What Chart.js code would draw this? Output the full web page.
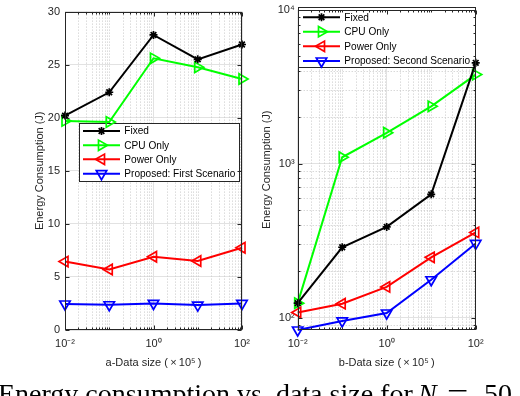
<!DOCTYPE html>
<html><head><meta charset="utf-8">
<script src="https://cdn.jsdelivr.net/npm/chart.js@4.4.0/dist/chart.umd.min.js"></script>
<style>
html,body{margin:0;padding:0;background:#fff;width:520px;height:396px;overflow:hidden;}
body{position:relative;}
#wa{position:absolute;left:0;top:0;width:260px;height:396px;}
#wb{position:absolute;left:260px;top:0;width:260px;height:396px;}
#cap{position:absolute;left:-2px;top:380px;width:540px;height:40px;font-family:"Liberation Serif","Times New Roman",serif;font-size:28px;line-height:1;white-space:nowrap;color:#000;}
#cap span,#cap i{position:absolute;top:0;}
#capN{left:420px;}
#capEq{left:449px;transform:scaleX(1.35);transform-origin:left center;}
#cap50{left:486px;}
</style></head><body>
<div id="wa"><canvas id="ca" width="260" height="396"></canvas></div>
<div id="wb"><canvas id="cb" width="260" height="396"></canvas></div>
<div id="cap"><span style="left:0">Energy consumption vs. data size for</span><i id="capN">N</i><span id="capEq">=</span><span id="cap50">50</span></div>
<script>
// ---------- data ----------
const dataSizes = [0.01, 0.1, 1, 10, 100];           // ×10^5
const xMajorTicks = [0.01, 1, 100];
const xTickLabels = ['10\u207B\u00B2', '10\u2070', '10\u00B2'];
const seriesNamesA = ['Fixed', 'CPU Only', 'Power Only', 'Proposed: First Scenario'];
const seriesNamesB = ['Fixed', 'CPU Only', 'Power Only', 'Proposed: Second Scenario'];
const fixedA    = [20.2, 22.4, 27.8, 25.5, 26.9];
const cpuA      = [19.7, 19.6, 25.6, 24.75, 23.65];
const powerA    = [6.45, 5.7, 6.9, 6.5, 7.75];
const proposedA = [2.45, 2.38, 2.5, 2.35, 2.5];
const fixedB    = [124, 286, 388, 631, 4510];
const cpuB      = [124, 1099, 1585, 2354, 3785];
const powerB    = [108, 123, 158, 246, 357];
const proposedB = [83, 95, 107, 176, 303];
const yTicksA = [0, 5, 10, 15, 20, 25, 30];
const yTicksB = [100, 1000, 10000];
const yTickLabelsB = ['10\u00B2', '10\u00B3', '10\u2074'];
const xTitleA = 'a-Data size (\u2009\u00D7\u200910\u2075\u2009)';
const xTitleB = 'b-Data size (\u2009\u00D7\u200910\u2075\u2009)';
const yTitle = 'Energy Consumption (J)';

// ---------- helpers ----------
const FONT = '"Liberation Sans", Arial, Helvetica, sans-serif';
const TXT = '#262626';
const styles = [
  {color:'#000000', pointStyle:'star', rotation:0, radius:4},
  {color:'#00ff00', pointStyle:'triangle', rotation:90, radius:6},
  {color:'#ff0000', pointStyle:'triangle', rotation:-90, radius:6},
  {color:'#0000ff', pointStyle:'triangle', rotation:180, radius:6}
];
function minorLogValues(lo, hi, majors){
  const out=[];
  for(let d=Math.floor(Math.log10(lo)); d<=Math.ceil(Math.log10(hi)); d++){
    for(let k=1;k<10;k++){
      const v = +(k*Math.pow(10,d)).toPrecision(6);
      if(v>lo*1.0001 && v<hi*0.9999 && !majors.some(m=>Math.abs(m-v)/m<1e-6)) out.push(v);
    }
  }
  return out;
}
function makeDatasets(names, arrays){
  return names.map((n,i)=>({
    label:n,
    data: dataSizes.map((x,j)=>({x:x, y:arrays[i][j]})),
    borderColor: styles[i].color,
    backgroundColor: 'rgba(0,0,0,0)',
    borderWidth: 2,
    pointStyle: styles[i].pointStyle,
    pointRotation: styles[i].rotation,
    pointRadius: styles[i].radius,
    pointHoverRadius: styles[i].radius,
    pointBorderWidth: 1.7,
    pointBorderColor: styles[i].color,
    pointBackgroundColor: 'rgba(0,0,0,0)',
    tension: 0,
    clip: false
  }));
}
function lineP(ctx,x0,y0,x1,y1){ctx.beginPath();ctx.moveTo(x0,y0);ctx.lineTo(x1,y1);ctx.stroke();}
function drawMarker(ctx, st, x, y){
  ctx.save();
  ctx.strokeStyle = st.color; ctx.fillStyle='rgba(0,0,0,0)'; ctx.lineWidth=1.7;
  if (Chart.helpers && Chart.helpers.drawPoint) {
    Chart.helpers.drawPoint(ctx, {pointStyle:st.pointStyle, rotation:st.rotation, radius:st.radius, borderWidth:1.7}, x, y);
  }
  ctx.restore();
}
function decorPlugin(cfg){
  return {
    id:'decor',
    beforeDatasetsDraw(chart){
      const {ctx, chartArea:a, scales:{x,y}} = chart;
      ctx.save();
      ctx.strokeStyle='#c8c8c8'; ctx.lineWidth=1; ctx.setLineDash([1,2]);
      cfg.minorX.forEach(v=>{const p=Math.round(x.getPixelForValue(v))+0.5; lineP(ctx,p,a.top,p,a.bottom);});
      cfg.minorY.forEach(v=>{const p=Math.round(y.getPixelForValue(v))+0.5; lineP(ctx,a.left,p,a.right,p);});
      ctx.restore();
      // legend
      const L = cfg.legend;
      ctx.save();
      ctx.fillStyle='#ffffff';
      ctx.fillRect(L.x0, L.y0, L.x1-L.x0, L.y1-L.y0);
      ctx.strokeStyle=TXT; ctx.lineWidth=1;
      ctx.strokeRect(Math.round(L.x0)+0.5, Math.round(L.y0)+0.5, Math.round(L.x1-L.x0)-1, Math.round(L.y1-L.y0)-1);
      ctx.font = '10.1px '+FONT; ctx.textBaseline='middle'; ctx.textAlign='left';
      chart.data.datasets.forEach((ds,i)=>{
        const ry = L.rows[i];
        ctx.strokeStyle = ds.borderColor; ctx.lineWidth=2;
        lineP(ctx, L.lx0, ry, L.lx1, ry);
        drawMarker(ctx, styles[i], (L.lx0+L.lx1)/2, ry);
        ctx.fillStyle='#000';
        ctx.fillText(ds.label, L.tx, ry+0.5);
      });
      ctx.restore();
    },
    afterDatasetsDraw(chart){
      const {ctx, chartArea:a, scales:{x,y}} = chart;
      ctx.save();
      ctx.strokeStyle=TXT; ctx.lineWidth=1; ctx.setLineDash([]);
      const l=Math.round(a.left)+0.5, r=Math.round(a.right)-0.5, t=Math.round(a.top)+0.5, b=Math.round(a.bottom)-0.5;
      ctx.strokeRect(l,t,r-l,b-t);
      const tk=(vals,len,isX)=>vals.forEach(v=>{
        if(isX){const p=Math.round(x.getPixelForValue(v))+0.5; lineP(ctx,p,b,p,b-len); lineP(ctx,p,t,p,t+len);}
        else {const p=Math.round(y.getPixelForValue(v))+0.5; lineP(ctx,l,p,l+len,p); lineP(ctx,r,p,r-len,p);}
      });
      tk(cfg.majorX,4,true); tk(cfg.minorX,2,true);
      tk(cfg.majorY,4,false); tk(cfg.minorY,2,false);
      ctx.restore();
    }
  };
}
function baseScales(o){
  return {
    x:{
      type:'logarithmic', min:0.01, max:100,
      afterBuildTicks:s=>{s.ticks = xMajorTicks.map(v=>({value:v}));},
      afterFit:s=>{s.height=66;},
      ticks:{autoSkip:false, maxRotation:0, padding:7, color:TXT, font:{family:FONT,size:11},
        callback:(v)=>{const i=xMajorTicks.findIndex(m=>Math.abs(m-v)/m<1e-6); return i>=0?xTickLabels[i]:'';}},
      grid:{color:'#e2e2e2', drawTicks:false, lineWidth:1},
      border:{display:false},
      title:{display:true, text:o.xTitle, color:TXT, font:{family:FONT,size:11}, padding:{top:0,bottom:26.5}}
    },
    y: Object.assign({
      afterFit:s=>{s.width=o.yWidth;},
      grid:{color:'#e2e2e2', drawTicks:false, lineWidth:1},
      border:{display:false},
      title:{display:true, text:yTitle, color:TXT, font:{family:FONT,size:11}, padding:{top:o.yTitlePad,bottom:0}}
    }, o.y)
  };
}
const commonOpts = {
  responsive:false, animation:false, devicePixelRatio:1,
  plugins:{legend:{display:false}, tooltip:{enabled:false}},
  events:[]
};

// ---------- chart A ----------
new Chart(document.getElementById('ca'), {
  type:'line',
  data:{datasets: makeDatasets(seriesNamesA, [fixedA, cpuA, powerA, proposedA])},
  options: Object.assign({}, commonOpts, {
    layout:{padding:{left:0,right:18,top:7,bottom:0}},
    scales: baseScales({xTitle:xTitleA, yWidth:65, yTitlePad:33.4, y:{
      type:'linear', min:0, max:30,
      afterBuildTicks:s=>{s.ticks=yTicksA.map(v=>({value:v}));},
      ticks:{padding:5, color:TXT, font:{family:FONT,size:11}, autoSkip:false}
    }})
  }),
  plugins:[decorPlugin({
    majorX:xMajorTicks, minorX:minorLogValues(0.01,100,xMajorTicks),
    majorY:yTicksA, minorY:[],
    legend:{x0:79,y0:123,x1:240,y1:182, rows:[131,145.3,159.3,173.7], lx0:83, lx1:120, tx:124.3}
  })]
});

// ---------- chart B ----------
new Chart(document.getElementById('cb'), {
  type:'line',
  data:{datasets: makeDatasets(seriesNamesB, [fixedB, cpuB, powerB, proposedB])},
  options: Object.assign({}, commonOpts, {
    layout:{padding:{left:0,right:44.3,top:7,bottom:0}},
    scales: baseScales({xTitle:xTitleB, yWidth:37.7, yTitlePad:0, y:{
      type:'logarithmic', min:83, max:10000,
      afterBuildTicks:s=>{s.ticks=yTicksB.map(v=>({value:v}));},
      ticks:{padding:3, color:TXT, font:{family:FONT,size:11}, autoSkip:false,
        callback:(v)=>{const i=yTicksB.findIndex(m=>Math.abs(m-v)/m<1e-6); return i>=0?yTickLabelsB[i]:'';}}
    }})
  }),
  plugins:[decorPlugin({
    majorX:xMajorTicks, minorX:minorLogValues(0.01,100,xMajorTicks),
    majorY:yTicksB, minorY:minorLogValues(83,10000,yTicksB),
    legend:{x0:37.7,y0:7,x1:215.7,y1:68.3, rows:[17.3,31.7,46.3,61], lx0:43, lx1:80, tx:84.3}
  })]
});
</script>
</body></html>
